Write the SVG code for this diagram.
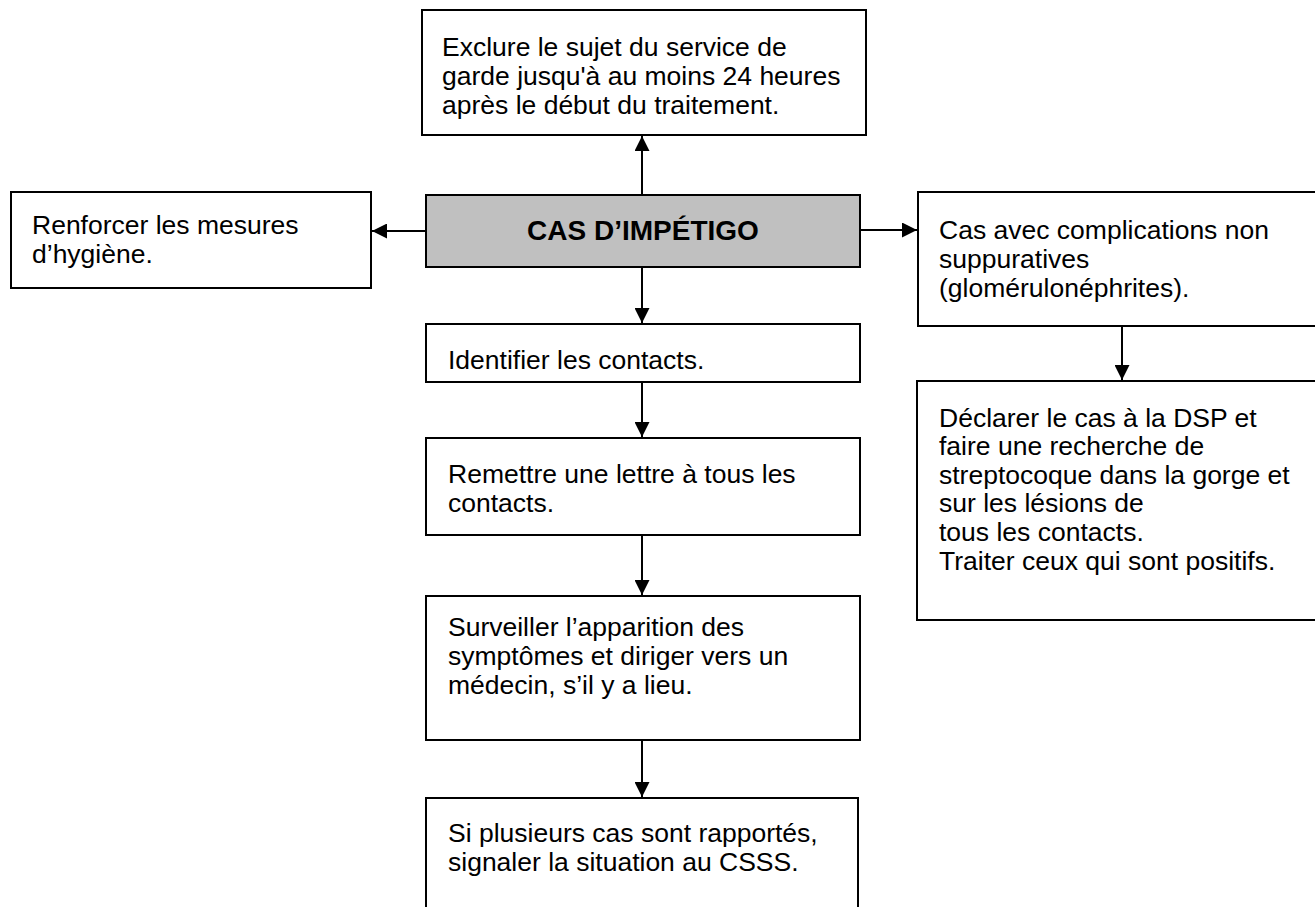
<svg xmlns="http://www.w3.org/2000/svg" width="1315" height="907" viewBox="0 0 1315 907">
<defs>
<style>
.box{fill:#ffffff;stroke:#000000;stroke-width:2}
.main{fill:#c0c0c0;stroke:#000000;stroke-width:2}
.t{font-family:"Liberation Sans",Arial,sans-serif;font-size:26.5px;fill:#000000}
.b{font-family:"Liberation Sans",Arial,sans-serif;font-size:28px;font-weight:bold;fill:#000000}
.c{stroke:#000000;stroke-width:2;fill:none;marker-end:url(#ah)}
</style>
<marker id="ah" viewBox="0 0 14 14" refX="14" refY="7" markerWidth="15" markerHeight="15" markerUnits="userSpaceOnUse" orient="auto">
<path d="M0,0 L14,7 L0,14 Z" fill="#000000"/>
</marker>
</defs>
<rect width="1315" height="907" fill="#ffffff"/>
<g id="connectors">
<line class="c" x1="642" y1="195" x2="642" y2="136"/>
<line class="c" x1="426" y1="231" x2="372" y2="231"/>
<line class="c" x1="860" y1="230" x2="917" y2="230"/>
<line class="c" x1="642" y1="267" x2="642" y2="323"/>
<line class="c" x1="642" y1="382" x2="642" y2="437"/>
<line class="c" x1="642" y1="535" x2="642" y2="595"/>
<line class="c" x1="642" y1="740" x2="642" y2="797"/>
<line class="c" x1="1122" y1="326" x2="1122" y2="380"/>
</g>
<g id="top">
<rect class="box" x="422" y="10" width="444" height="125"/>
<text class="t" x="442" y="56">Exclure le sujet du service de</text>
<text class="t" x="442" y="85">garde jusqu'à au moins 24 heures</text>
<text class="t" x="442" y="114">après le début du traitement.</text>
</g>
<g id="center">
<rect class="main" x="426" y="195" width="434" height="72"/>
<text class="b" x="643" y="240" text-anchor="middle">CAS D’IMPÉTIGO</text>
</g>
<g id="left">
<rect class="box" x="11" y="192" width="360" height="96"/>
<text class="t" x="32" y="234">Renforcer les mesures</text>
<text class="t" x="32" y="263">d’hygiène.</text>
</g>
<g id="right">
<rect class="box" x="918" y="192" width="410" height="134"/>
<text class="t" x="939" y="239">Cas avec complications non</text>
<text class="t" x="939" y="268">suppuratives</text>
<text class="t" x="939" y="297">(glomérulonéphrites).</text>
</g>
<g id="declarer">
<rect class="box" x="917" y="381" width="410" height="239"/>
<text class="t" x="939" y="427">Déclarer le cas à la DSP et</text>
<text class="t" x="939" y="455">faire une recherche de</text>
<text class="t" x="939" y="484">streptocoque dans la gorge et</text>
<text class="t" x="939" y="512">sur les lésions de</text>
<text class="t" x="939" y="541">tous les contacts.</text>
<text class="t" x="939" y="570">Traiter ceux qui sont positifs.</text>
</g>
<g id="identifier">
<rect class="box" x="426" y="324" width="434" height="58"/>
<text class="t" x="448" y="369">Identifier les contacts.</text>
</g>
<g id="remettre">
<rect class="box" x="426" y="438" width="434" height="97"/>
<text class="t" x="448" y="483">Remettre une lettre à tous les</text>
<text class="t" x="448" y="512">contacts.</text>
</g>
<g id="surveiller">
<rect class="box" x="426" y="596" width="434" height="144"/>
<text class="t" x="448" y="636">Surveiller l’apparition des</text>
<text class="t" x="448" y="665">symptômes et diriger vers un</text>
<text class="t" x="448" y="694">médecin, s’il y a lieu.</text>
</g>
<g id="signaler">
<rect class="box" x="426" y="798" width="432" height="130"/>
<text class="t" x="448" y="842">Si plusieurs cas sont rapportés,</text>
<text class="t" x="448" y="871">signaler la situation au CSSS.</text>
</g>
</svg>
